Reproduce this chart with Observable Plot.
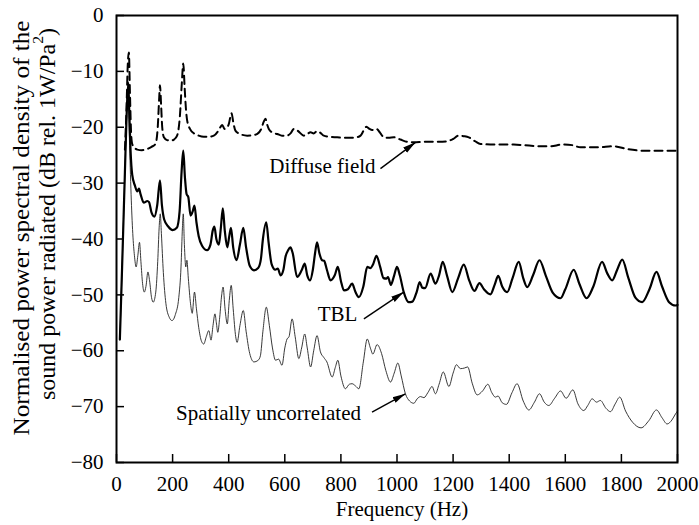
<!DOCTYPE html>
<html>
<head>
<meta charset="utf-8">
<script src="https://cdn.jsdelivr.net/npm/d3@7"></script>
<script src="https://cdn.jsdelivr.net/npm/@observablehq/plot@0.6"></script>
<style>
  html, body { margin: 0; padding: 0; background: #fff; }
  #chart svg { display: block; }
</style>
</head>
<body>
<div id="chart"></div>
<script>
// ---- Data ----
const tblFreq = [12,20,30,36,42,46,50,56,66,74,80,86,97,110,116,125,135,145,155,162,170,185,200,215,225,232,238,244,250,256,264,272,278,285,293,305,323,335,343,349,356,365,372,379,386,395,402,408,416,428,440,452,462,475,490,505,515,522,534,542,553,566,575,585,595,602,612,620,628,644,660,671,680,690,700,708,715,723,733,740,750,763,778,789,800,811,825,840,852,864,880,894,905,915,927,940,952,962,968,978,990,1000,1010,1024,1042,1055,1070,1081,1090,1100,1120,1137,1150,1163,1178,1197,1218,1238,1258,1276,1294,1310,1333,1348,1361,1375,1393,1412,1434,1450,1464,1485,1508,1530,1555,1583,1600,1630,1650,1676,1700,1731,1750,1767,1785,1803,1825,1850,1874,1900,1925,1945,1970,1993,2000];
const tblDb = [-58,-45,-28,-18,-12,-18,-24,-28.5,-30.5,-31.5,-31,-32,-33.5,-33.2,-33.4,-35.3,-36,-34,-29.5,-34,-36.5,-37.8,-38.4,-38,-35,-28,-24.2,-29,-32,-32.5,-35.8,-35,-34,-37,-39.5,-41.2,-42,-41,-38.5,-37.8,-40,-41,-38,-34.5,-38.5,-41.5,-39.5,-38,-41.5,-43.8,-41,-38,-41.5,-44.8,-45.6,-45.2,-43.5,-40,-37,-40.5,-44.5,-45.5,-45.3,-46.5,-45.5,-43.3,-42,-41.5,-42.5,-46.8,-45.6,-44.4,-46.5,-47.4,-45.5,-42.5,-40.6,-42.5,-43.8,-43.9,-45.5,-47.4,-46.5,-45,-47.5,-49.2,-49,-48,-49.5,-50.4,-48.5,-45,-45.2,-44.5,-43,-45,-47,-47.1,-46.8,-48.2,-46.5,-45,-46.5,-49.5,-51.3,-51.2,-49.5,-47.7,-48.7,-48.8,-46.2,-48,-46.5,-44.1,-46.5,-49.5,-47,-44.6,-47.5,-49.3,-47.9,-49,-49.9,-48.2,-46.6,-48.5,-49.5,-47,-44.1,-47,-48.6,-46.5,-43.8,-46.5,-49.6,-50.6,-49,-45.5,-48,-50.6,-48.5,-44.1,-46.2,-47.4,-45.5,-43.7,-47,-50.5,-51.3,-49,-45.9,-48.5,-51.3,-51.9,-51.8];

const uncFreq = [12,20,30,36,41,46,52,58,64,70,76,82,87,93,99,105,112,118,125,131,140,147,152,156,160,167,176,188,198,210,222,230,235,238,242,247,251,256,264,270,278,285,293,303,311,320,329,337,344,351,356,361,368,375,380,387,395,402,409,416,425,430,440,452,462,475,490,505,513,522,534,545,556,567,578,590,600,608,615,626,637,650,660,671,680,692,703,715,727,739,750,769,780,789,800,816,830,840,852,864,880,894,905,914,929,945,960,977,990,1003,1015,1030,1045,1060,1072,1084,1096,1110,1125,1137,1150,1165,1185,1200,1212,1226,1240,1252,1268,1286,1305,1324,1338,1351,1360,1375,1390,1410,1428,1450,1470,1490,1508,1525,1541,1562,1583,1603,1627,1645,1666,1680,1696,1711,1725,1745,1761,1778,1794,1815,1840,1870,1898,1925,1945,1963,1980,1993,2000];
const uncDb = [-58,-45,-28,-18,-13,-22,-32,-39,-43,-45,-43,-40.6,-44,-48,-49.5,-48.5,-45.9,-47.5,-50.5,-51.3,-49.5,-44,-38,-35.5,-39,-46,-51.5,-54,-54.6,-53.5,-50.5,-45,-38,-35.5,-41,-45,-43.8,-47,-51.6,-53.3,-49.5,-52.5,-55.8,-58.3,-58.8,-57.5,-56.4,-58.1,-55.5,-53.4,-55,-56.7,-54,-50,-48.6,-52.5,-55.2,-51,-48.3,-52.5,-57.5,-58.5,-55.5,-52.8,-56.5,-60.5,-62,-61.7,-60.9,-56.5,-52.2,-55.5,-59.5,-61.7,-61.5,-62.6,-59.5,-57.9,-57.5,-54.3,-57.5,-61.4,-59.5,-57,-59.5,-62.9,-60,-57.3,-60.2,-61.2,-62,-64.7,-63,-61.7,-64.5,-66.8,-66,-65.9,-66.3,-66.8,-62,-57.9,-59.5,-60.6,-58.9,-60.5,-63.5,-65.6,-64,-62.2,-64.5,-67.7,-69,-69.4,-68.6,-68.2,-68.4,-67.5,-66.4,-67.7,-66,-63.8,-66.4,-64,-62.5,-63.2,-63.1,-62.9,-65.8,-67.9,-67.2,-66,-67.5,-68.3,-68.1,-69.3,-69.6,-67.5,-65.9,-69,-70.6,-69.2,-67.7,-69.2,-69.8,-68.5,-67.2,-68.5,-67,-69.5,-70.7,-69.8,-68.6,-69.2,-68.9,-70.3,-70.9,-69.5,-68.3,-70.8,-72.8,-73.8,-72.5,-70.6,-72,-73.1,-72.4,-71.3,-70.8];

const difFreq = [30,36,40,44,48,52,56,65,74,90,109,125,139,147,152,155,159,163,169,180,193,205,216,226,233,238,243,248,252,262,276,293,311,330,347,362,370,377,385,393,400,410,417,424,440,466,490,502,515,525,531,537,543,558,573,590,608,622,632,645,668,680,692,703,715,727,739,760,787,810,834,855,870,882,891,902,911,927,940,953,970,989,1012,1036,1060,1100,1150,1179,1200,1220,1238,1256,1278,1298,1357,1416,1450,1511,1547,1589,1625,1654,1714,1773,1820,1880,2000];
const difDb = [-24,-16,-9,-6.6,-14,-21,-23,-23.7,-24,-24.1,-23.9,-23.5,-23,-20,-15,-12.5,-16,-20,-21.8,-22.3,-22.4,-22.2,-21.5,-18,-12,-8.6,-13,-17,-18.8,-20.3,-21.1,-21.5,-21.7,-21.7,-21.5,-20.7,-20,-19.6,-20.3,-20.1,-19.5,-17.5,-19.3,-20.6,-21.2,-21.5,-21.4,-21.2,-20.4,-19,-18.5,-19.5,-20.3,-21,-21.2,-21.5,-21.5,-21,-20.3,-20.6,-21.5,-21.2,-20.9,-21.1,-20.7,-21,-21.5,-21.7,-21.8,-21.9,-21.9,-21.8,-21.5,-20.5,-19.9,-20.3,-20.5,-20.3,-21,-21.8,-21.9,-21.8,-22.2,-22.6,-22.7,-22.6,-22.6,-22.5,-22.1,-21.5,-21.6,-21.8,-22.5,-23,-23.1,-23.1,-23.2,-23.4,-23.4,-23.1,-23.2,-23.6,-23.6,-23.4,-23.9,-24.2,-24.2];

const xTicks = [0,200,400,600,800,1000,1200,1400,1600,1800,2000];
const yTicks = [0,-10,-20,-30,-40,-50,-60,-70,-80];

const noteText = ["Diffuse field", "TBL", "Spatially uncorrelated"];
const noteX = [734, 788, 542];
const noteY = [-27.0, -53.4, -71.2];
const arrowX1 = [941, 882, 911];
const arrowY1 = [-27.4, -54.3, -71.0];
const arrowX2 = [1066, 1024, 1030];
const arrowY2 = [-22.7, -49.5, -67.7];

const xTitle = "Frequency (Hz)";
const yTitle1 = "Normalised power spectral density of the";
const yTitle2 = "sound power radiated (dB rel. 1W/Pa";

// ---- Build tables ----
const toRows = (fs, ds) => fs.map((f, i) => ({f, db: ds[i]}));
const tbl = toRows(tblFreq, tblDb);
const unc = toRows(uncFreq, uncDb);
const dif = toRows(difFreq, difDb);
const notes = noteText.map((t, i) => ({t, x: noteX[i], y: noteY[i]}));
const arrows = arrowX1.map((x1, i) => ({x1, y1: arrowY1[i], x2: arrowX2[i], y2: arrowY2[i]}));

const FONT = "Liberation Serif";
const minusFmt = d => (d < 0 ? "\u2212" + Math.abs(d) : String(d));

const chart = Plot.plot({
  width: 699,
  height: 525,
  marginTop: 15,
  marginBottom: 63,
  marginLeft: 116,
  marginRight: 22,
  style: {fontFamily: FONT, fontSize: "21px", color: "#000", background: "#fff"},
  x: {domain: [0, 2000]},
  y: {domain: [-80, 0]},
  marks: [
    Plot.line(unc, {x: "f", y: "db", stroke: "#222", strokeWidth: 0.9, curve: "monotone-x"}),
    Plot.line(tbl, {x: "f", y: "db", stroke: "#000", strokeWidth: 2.2, curve: "monotone-x"}),
    Plot.line(dif, {x: "f", y: "db", stroke: "#000", strokeWidth: 2, strokeDasharray: "8,5", curve: "monotone-x"}),
    Plot.text(notes, {x: "x", y: "y", text: "t", fontSize: 21, fill: "#000", fontFamily: FONT}),
    Plot.link(arrows, {x1: "x1", y1: "y1", x2: "x2", y2: "y2", stroke: "#000", strokeWidth: 1.4}),
    Plot.axisX({ticks: xTicks, tickFormat: d => String(d), tickSize: -8, tickPadding: 22, label: null, fontSize: 21, fontFamily: FONT, strokeWidth: 1.5}),
    Plot.axisY({ticks: yTicks, tickFormat: minusFmt, tickSize: -8, tickPadding: 21, label: null, fontSize: 21, fontFamily: FONT, strokeWidth: 1.5}),
    Plot.frame({stroke: "#000", strokeWidth: 2})
  ]
});

document.getElementById("chart").appendChild(chart);

const svg = d3.select(chart);

// Filled arrowheads on the annotation links
const defs = svg.insert("defs", ":first-child");
defs.append("marker")
  .attr("id", "ah")
  .attr("viewBox", "0 0 13 8")
  .attr("refX", 13).attr("refY", 4)
  .attr("markerWidth", 13).attr("markerHeight", 8)
  .attr("markerUnits", "userSpaceOnUse")
  .attr("orient", "auto")
  .append("path").attr("d", "M0,0.8L13,4L0,7.2Z").attr("fill", "#000");
svg.selectAll('g[aria-label="link"] path').attr("marker-end", "url(#ah)");

// Axis titles
svg.append("text")
  .attr("x", 402).attr("y", 516)
  .attr("text-anchor", "middle")
  .attr("font-family", FONT).attr("font-size", 21).attr("fill", "#000")
  .text(xTitle);

svg.append("text")
  .attr("transform", "translate(29,228) rotate(-90)")
  .attr("text-anchor", "middle")
  .attr("font-family", FONT).attr("font-size", 23).attr("fill", "#000")
  .attr("textLength", 415).attr("lengthAdjust", "spacingAndGlyphs")
  .text(yTitle1);

const t2 = svg.append("text")
  .attr("transform", "translate(55,214) rotate(-90)")
  .attr("text-anchor", "middle")
  .attr("font-family", FONT).attr("font-size", 23).attr("fill", "#000")
  .attr("textLength", 372).attr("lengthAdjust", "spacingAndGlyphs");
t2.append("tspan").text(yTitle2);
t2.append("tspan").attr("font-size", 15).attr("dy", -12).text("2");
t2.append("tspan").attr("dy", 12).text(")");
</script>
</body>
</html>
